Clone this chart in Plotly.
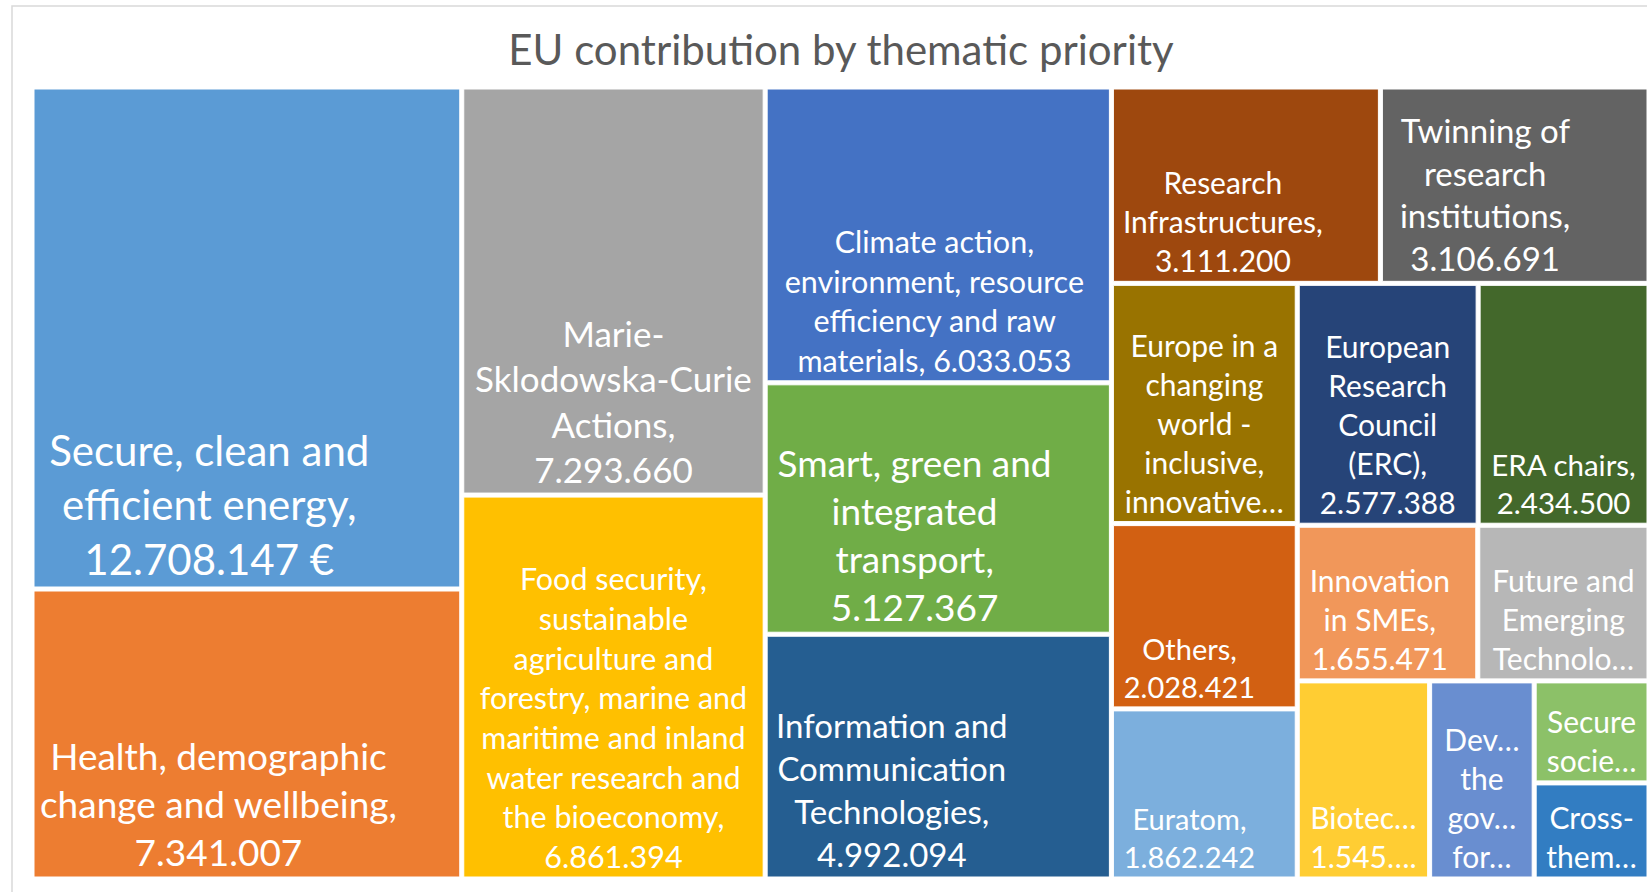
import plotly.graph_objects as go

# ---------------- data ----------------
names = [
    "Secure, clean and efficient energy",
    "Health, demographic change and wellbeing",
    "Marie-Sklodowska-Curie Actions",
    "Food security, sustainable agriculture and forestry, marine and maritime and inland water research and the bioeconomy",
    "Climate action, environment, resource efficiency and raw materials",
    "Smart, green and integrated transport",
    "Information and Communication Technologies",
    "Research Infrastructures",
    "Twinning of research institutions",
    "Europe in a changing world - inclusive, innovative and reflective societies",
    "European Research Council (ERC)",
    "ERA chairs",
    "Others",
    "Euratom",
    "Innovation in SMEs",
    "Future and Emerging Technologies",
    "Biotechnology",
    "Development of the governance for responsible research and innovation",
    "Secure societies",
    "Cross-thematic",
]
values = [
    12708147, 7341007, 7293660, 6861394, 6033053, 5127367, 4992094,
    3111200, 3106691, 2630000, 2577388, 2434500, 2028421, 1862242,
    1655471, 1570000, 1545000, 1220000, 690000, 650000,
]
colors = [
    "#5B9BD5", "#ED7D31", "#A5A5A5", "#FFC000", "#4472C4", "#70AD47", "#255E91",
    "#9E480E", "#636363", "#997300", "#264478", "#43682B", "#D26012", "#7CAFDD",
    "#F1975A", "#B7B7B7", "#FFCD33", "#698ED0", "#8CC168", "#327DC2",
]
# label text as Excel wraps / truncates it ({v} = value, {vt} = truncated value)
label_lines = [
    ["Secure, clean and", "efficient energy,", "{v} €"],
    ["Health, demographic", "change and wellbeing,", "{v}"],
    ["Marie-", "Sklodowska-Curie", "Actions,", "{v}"],
    ["Food security,", "sustainable", "agriculture and", "forestry, marine and",
     "maritime and inland", "water research and", "the bioeconomy,", "{v}"],
    ["Climate action,", "environment, resource", "efficiency and raw", "materials, {v}"],
    ["Smart, green and", "integrated", "transport,", "{v}"],
    ["Information and", "Communication", "Technologies,", "{v}"],
    ["Research", "Infrastructures,", "{v}"],
    ["Twinning of", "research", "institutions,", "{v}"],
    ["Europe in a", "changing", "world -", "inclusive,", "innovative…"],
    ["European", "Research", "Council", "(ERC),", "{v}"],
    ["ERA chairs,", "{v}"],
    ["Others,", "{v}"],
    ["Euratom,", "{v}"],
    ["Innovation", "in SMEs,", "{v}"],
    ["Future and", "Emerging", "Technolo…"],
    ["Biotec…", "{vt}"],
    ["Dev…", "the", "gov…", "for…"],
    ["Secure", "socie…"],
    ["Cross-", "them…"],
]

# layout groups (reproduce the Excel tiling)
leaf_parents = ["c1", "c1", "c2", "c2", "c3", "c3", "c3", "r1", "r1", "lc",
                "rERC", "rERC", "lc", "lc", "rSME", "rSME", "rBot", "rBot", "sc", "sc"]
group_ids = ["root", "c1", "c2", "c3", "c4", "r1", "rest", "lc", "rp",
             "rERC", "rSME", "rBot", "sc"]
group_parents = ["", "root", "root", "root", "root", "c4", "c4", "rest", "rest",
                 "rp", "rp", "rp", "rBot"]

title_text = "EU contribution by thematic priority"

# ---------------- style ----------------
font_sizes = [42, 37, 35, 30.5, 30.5, 37, 33, 30, 33, 30,
              30, 29.5, 29, 29, 30, 30, 30, 30, 30, 30]
# trailing no-break spaces: nudge label blocks left like Excel's left-aligned labels
label_shift = [7, 6, 0, 0, 1, 5, 11, 6, 7, 0,
               0, 0, 4, 4, 2, 0, 0, 0, 0, 0]


# ---------------- build ----------------
def fmt(v):
    return f"{v:,}".replace(",", ".")


texts = []
for lines, v, sh in zip(label_lines, values, label_shift):
    out = []
    for ln in lines:
        ln = ln.replace("{vt}", fmt(v)[:5] + "….").replace("{v}", fmt(v))
        out.append(ln + "\u00a0" * sh)
    texts.append("<br>".join(out))

ids = [f"leaf{i}" for i in range(len(names))] + group_ids
parents = leaf_parents + group_parents
vals = values + [0] * len(group_ids)
node_colors = colors + ["#FFFFFF"] * len(group_ids)
node_text = texts + [""] * len(group_ids)
hover = names + [""] * len(group_ids)
sizes = font_sizes + [10] * len(group_ids)

fig = go.Figure(go.Treemap(
    ids=ids,
    labels=hover,
    parents=parents,
    values=vals,
    branchvalues="remainder",
    sort=False,
    text=node_text,
    textinfo="text",
    textposition="bottom center",
    textfont=dict(family="Lato, 'Open Sans', sans-serif", color="white", size=sizes),
    hovertext=hover,
    hoverinfo="text",
    marker=dict(colors=node_colors, line=dict(color="white", width=1),
                pad=dict(t=0, l=0, r=0, b=0), depthfade=False),
    tiling=dict(packing="slice-dice", pad=4),
    pathbar=dict(visible=False),
    root=dict(color="white"),
))

W, H = 1647, 892
L, T, B = 34, 89, 15
fig.update_layout(
    width=W, height=H,
    margin=dict(l=L, r=0, t=T, b=B, pad=0),
    paper_bgcolor="white",
    title=dict(text=title_text, x=841 / W, xanchor="center", xref="container",
               y=1 - 50 / H, yanchor="middle", yref="container",
               font=dict(family="Lato, 'Open Sans', sans-serif", size=42, color="#595959")),
    shapes=[dict(type="rect", xref="paper", yref="paper",
                 x0=(12 - L) / (W - L), x1=1.1,
                 y0=-0.2, y1=(H - B - 6) / (H - T - B),
                 line=dict(color="#D9D9D9", width=1.5), fillcolor="rgba(0,0,0,0)",
                 layer="below")],
)

fig.write_html("out.html")
